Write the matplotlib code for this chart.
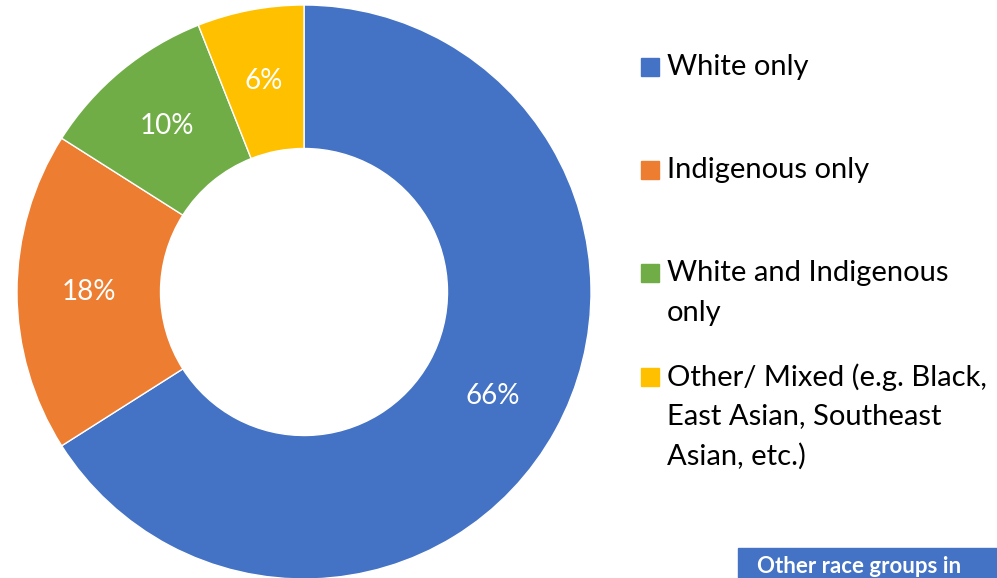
import matplotlib.pyplot as plt
from matplotlib.patches import Rectangle

plt.rcParams['font.family'] = ['Lato', 'DejaVu Sans']

# data
groups = [['White only'],
          ['Indigenous only'],
          ['White and Indigenous', 'only'],
          ['Other/ Mixed (e.g. Black,', 'East Asian, Southeast', 'Asian, etc.)']]
shares = [66, 18, 10, 6]
colors = ['#4472C4', '#ED7D31', '#70AD47', '#FFC000']
note = 'Other race groups in'

W, H = 997, 578
fig = plt.figure(figsize=(W / 100, H / 100), dpi=100)

# donut
cx, cy, r = 304, 292, 287
ax = fig.add_axes([(cx - r) / W, (H - cy - r) / H, 2 * r / W, 2 * r / H])
wedges, texts, autotexts = ax.pie(
    shares, colors=colors, startangle=90, counterclock=False, radius=1,
    autopct='%d%%', pctdistance=0.75,
    wedgeprops=dict(width=0.5, edgecolor='white', linewidth=1),
    textprops=dict(color='white', fontsize=20))
ax.set_xlim(-1, 1)
ax.set_ylim(-1, 1)
ax.set_aspect('equal')
ax.axis('off')

# legend drawn by hand (square aligned with first text line)
legend_y = [67, 170, 273, 377]
line_h = 39.5
sq = 18
for y, lines, col in zip(legend_y, groups, colors):
    fig.patches.append(Rectangle((641 / W, (H - y - sq / 2) / H), sq / W, sq / H,
                                 transform=fig.transFigure, color=col))
    for i, line in enumerate(lines):
        fig.text(667 / W, (H - y - i * line_h) / H, line, fontsize=21,
                 va='center', ha='left', color='black')

# note box at bottom right (cut by the figure edge in the original)
fig.patches.append(Rectangle((738 / W, 0), (W - 738) / W, (H - 548) / H,
                             transform=fig.transFigure, color='#4472C4'))
fig.text(757 / W, (H - 573) / H, note, fontsize=16, fontweight='bold',
         color='white', ha='left', va='baseline')

fig.savefig('out.png', dpi=100)
